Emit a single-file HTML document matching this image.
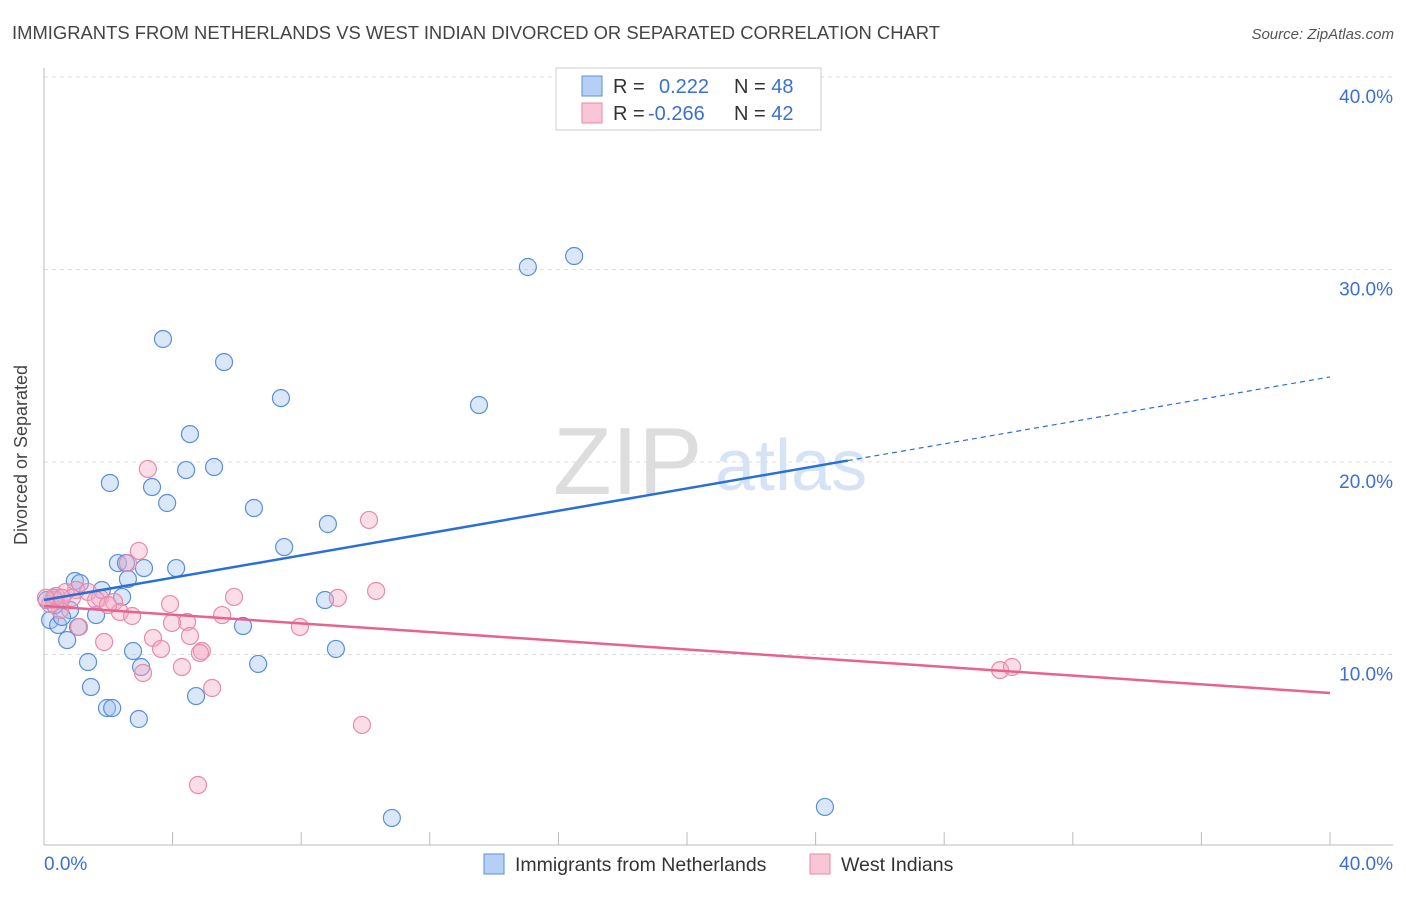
<!DOCTYPE html>
<html><head><meta charset="utf-8"><style>
body{margin:0;background:#fff;font-family:"Liberation Sans",sans-serif}
svg text{font-family:"Liberation Sans",sans-serif}
</style></head><body>
<svg id="chart" width="1406" height="892">
<text x="12" y="39" font-size="18" fill="#444" textLength="928" lengthAdjust="spacingAndGlyphs">IMMIGRANTS FROM NETHERLANDS VS WEST INDIAN DIVORCED OR SEPARATED CORRELATION CHART</text>
<text x="1394" y="39" font-size="15" fill="#555" font-style="italic" text-anchor="end">Source: ZipAtlas.com</text>
<g>
<text x="553" y="494" font-size="96" fill="#ddd" font-family="Liberation Serif">ZIP</text>
<text x="715" y="490" font-size="72" fill="#d5e3f5">atlas</text>
</g>
<g id="grid"></g>
<g id="axes"></g>
<g id="points"></g>
<g id="trends"></g>
<text x="27" y="455" font-size="18" fill="#444" text-anchor="middle" transform="rotate(-90 27 455)">Divorced or Separated</text>
<text x="44" y="870" font-size="19" fill="#3b6fd4">0.0%</text>
<text x="1393" y="870" font-size="19" fill="#3b6fd4" text-anchor="end">40.0%</text>
<g>
<rect x="556" y="68" width="265" height="62" fill="#fff" stroke="#ccc"/>
<rect x="582" y="76" width="20" height="20" fill="#b6d0f5" stroke="#5a8fd8"/>
<rect x="582" y="103" width="20" height="20" fill="#f9c6d6" stroke="#e88aab"/>
<text x="613" y="93" font-size="20" fill="#333">R = <tspan fill="#3b6fd4" x="659">0.222</tspan><tspan x="734" fill="#333">N = </tspan><tspan fill="#3b6fd4">48</tspan></text>
<text x="613" y="120" font-size="20" fill="#333">R = <tspan fill="#3b6fd4" x="648">-0.266</tspan><tspan x="734" fill="#333">N = </tspan><tspan fill="#3b6fd4">42</tspan></text>
</g>
<g>
<rect x="484" y="854" width="20" height="20" fill="#b6d0f5" stroke="#5a8fd8"/>
<text x="515" y="871" font-size="19.5" fill="#333">Immigrants from Netherlands</text>
<rect x="810" y="854" width="20" height="20" fill="#f9c6d6" stroke="#e88aab"/>
<text x="841" y="871" font-size="19.5" fill="#333">West Indians</text>
</g>
</svg>
<script>
const yTicks=[10,20,30,40];
const yTickLabels=["10.0%","20.0%","30.0%","40.0%"];
const blueX=[3.70,5.60,7.37,4.54,4.42,5.29,2.05,3.36,3.83,6.53,8.83,7.47,2.30,2.55,3.11,4.11,0.96,2.61,1.80,2.43,0.31,1.62,0.81,0.19,0.44,1.06,8.74,6.19,0.72,2.77,1.37,3.02,6.66,9.08,1.46,1.96,2.12,2.95,4.73,15.05,16.49,13.53,10.82,24.29,1.12,0.56,0.09,0.34];
const blueY=[26.39,25.19,23.32,21.45,19.58,19.74,18.91,18.70,17.87,17.61,16.78,15.58,14.75,14.75,14.49,14.49,13.82,13.92,13.35,12.99,12.94,12.05,12.31,11.79,11.53,11.43,12.83,11.48,10.75,10.18,9.61,9.35,9.51,10.29,8.31,7.22,7.22,6.65,7.84,30.13,30.70,22.96,1.51,2.08,13.71,11.95,12.83,12.57];
const pinkX=[3.23,10.11,2.95,2.61,1.00,0.68,1.37,1.74,0.31,0.50,0.19,2.18,2.36,2.74,5.91,3.92,5.54,4.45,3.98,7.96,9.14,10.33,1.09,3.39,4.54,1.87,3.64,4.91,4.85,4.29,3.08,5.23,9.89,4.79,29.74,30.11,0.37,0.87,1.62,1.99,0.06,0.56];
const pinkY=[19.64,16.99,15.38,14.75,13.35,13.25,13.25,12.94,12.83,12.31,12.62,12.73,12.21,12.00,12.99,12.62,12.05,11.69,11.64,11.43,12.94,13.30,11.43,10.86,10.96,10.65,10.29,10.18,10.08,9.35,9.04,8.26,6.34,3.22,9.19,9.35,13.04,12.94,12.83,12.57,12.94,12.94];
const blueTrend=[12.83,24.42];
const blueSolidEnd=25.0;
const pinkTrend=[12.52,8.0];
const NS="http://www.w3.org/2000/svg";
const sx=v=>44+v/40*1286;
const sy=v=>847-v*19.25;
function mk(tag,attrs,parent){const e=document.createElementNS(NS,tag);for(const k in attrs)e.setAttribute(k,attrs[k]);document.getElementById(parent).appendChild(e);return e;}
yTicks.forEach((t,i)=>{
 const l=mk('line',{x1:44,x2:1393,y1:sy(t),y2:sy(t),stroke:'#ddd','stroke-dasharray':'4,4'},'grid');
 
 
 const tx=mk('text',{x:1393,y:sy(t)+26,'font-size':19,fill:'#3b6fd4','text-anchor':'end'},'grid');
 tx.textContent=yTickLabels[i];
 
 
});
let a=mk('line',{x1:44,x2:44,y1:68,y2:845,stroke:'#bbb'},'axes');


a=mk('line',{x1:44,x2:1393,y1:845,y2:845,stroke:'#bbb'},'axes');


for(let i=0;i<=10;i++){
 const t=mk('line',{x1:sx(i*4),x2:sx(i*4),y1:832,y2:845,stroke:'#bbb'},'axes');
 
 
}
function pts(X,Y,fill,stroke,name){
 X.forEach((x,i)=>{
  const c=mk('circle',{cx:sx(x),cy:sy(Y[i]),r:8.5,fill:fill,stroke:stroke,'stroke-width':1.2},'points');
  
  
 });
}
pts(blueX,blueY,'rgba(160,196,240,0.4)','#5a8fd8','point-netherlands');
pts(pinkX,pinkY,'rgba(245,170,195,0.4)','#e88aab','point-westindian');
const by=x=>blueTrend[0]+(blueTrend[1]-blueTrend[0])*x/40;
let l=mk('line',{x1:sx(0),y1:sy(by(0)),x2:sx(blueSolidEnd),y2:sy(by(blueSolidEnd)),stroke:'#2a6fd6','stroke-width':2.5},'trends');


l=mk('line',{x1:sx(blueSolidEnd),y1:sy(by(blueSolidEnd)),x2:sx(40),y2:sy(by(40)),stroke:'#2a6fd6','stroke-width':1.2,'stroke-dasharray':'5,4'},'trends');


l=mk('line',{x1:sx(0),y1:sy(pinkTrend[0]),x2:sx(40),y2:sy(pinkTrend[1]),stroke:'#e8628e','stroke-width':2.5},'trends');


</script>
</body></html>
